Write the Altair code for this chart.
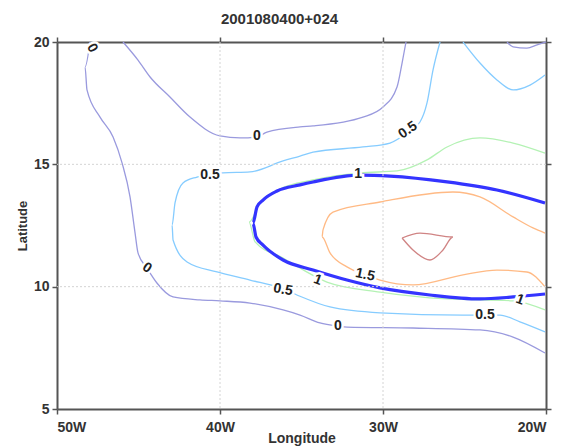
import altair as alt
import pandas as pd

# ---- contour polylines (lon in degrees east, negative = W; lat in degrees N) ----
c0a_lon = [-45.95, -45.03, -44.29, -43.07, -41.84, -40.0, -38.77, -37.73, -37.12, -35.09, -34.29, -31.23, -30.0, -29.14, -28.83, -28.59]
c0a_lat = [20.0, 19.26, 18.57, 17.75, 16.93, 16.16, 16.08, 16.12, 16.32, 16.53, 16.57, 16.93, 17.34, 18.16, 19.14, 20.0]

c0b_lon = [-47.98, -48.28, -48.16, -47.36, -46.56, -46.01, -45.52, -45.21, -45.03, -44.48, -43.87, -42.88, -41.23, -40.0, -38.16, -36.13, -35.09, -33.87, -32.76, -32.21, -28.16, -24.05, -22.02, -20.06]
c0b_lat = [20.0, 18.98, 18.04, 16.93, 16.12, 15.06, 13.67, 12.19, 11.38, 10.76, 10.15, 9.58, 9.46, 9.42, 9.33, 9.05, 8.84, 8.52, 8.39, 8.35, 8.31, 8.23, 7.94, 7.29]

c0c_lon = [-22.39, -22.02, -21.17, -20.55, -20.0]
c0c_lat = [20.0, 19.8, 19.75, 19.88, 20.0]

c05a_lon = [-26.5, -26.93, -27.3, -27.73, -28.47, -29.57, -31.23, -34.29, -35.09, -36.13, -38.16, -39.82, -41.41, -42.27, -42.76, -42.94, -42.88, -42.02, -40.18, -38.16, -36.13, -35.28, -33.25, -30.18, -25.09, -22.82, -21.6, -20.06]
c05a_lat = [20.0, 18.86, 17.51, 16.73, 16.32, 15.87, 15.71, 15.5, 15.34, 15.14, 14.69, 14.65, 14.48, 14.24, 13.42, 12.52, 11.91, 11.01, 10.6, 10.27, 9.91, 9.66, 9.17, 8.93, 8.84, 8.84, 8.56, 8.15]

c05b_lon = [-25.09, -24.05, -23.01, -22.02, -20.98, -20.06]
c05b_lat = [20.0, 19.14, 18.45, 18.04, 18.24, 18.65]

c1_lon = [-20.06, -22.02, -24.05, -26.07, -27.3, -29.14, -31.41, -34.29, -36.32, -37.55, -38.22, -37.85, -36.13, -33.44, -30.18, -26.07, -22.02, -20.06]
c1_lat = [15.46, 15.87, 16.08, 15.71, 15.18, 14.73, 14.65, 14.36, 13.99, 13.42, 12.64, 11.83, 11.17, 10.19, 9.78, 9.5, 9.42, 9.05]

c15_lon = [-20.06, -20.8, -22.02, -24.05, -25.71, -30.18, -33.07, -33.68, -33.74, -33.25, -32.21, -31.1, -30.18, -28.16, -25.09, -23.01, -21.17, -20.06]
c15_lat = [12.19, 12.4, 12.85, 13.67, 13.87, 13.46, 13.05, 12.32, 12.03, 11.38, 10.81, 10.48, 10.27, 10.07, 10.48, 10.68, 10.6, 9.99]

c2_lon = [-28.83, -27.73, -25.71, -26.32, -27.12, -28.16, -28.83]
c2_lat = [11.99, 12.19, 12.03, 11.5, 11.09, 11.5, 11.99]

blue_lon = [-20.06, -23.01, -26.07, -29.57, -31.41, -34.29, -35.09, -36.5, -37.36, -37.73, -37.98, -37.79, -37.36, -36.13, -34.29, -32.21, -30.18, -27.12, -24.05, -22.02, -20.06]
blue_lat = [13.42, 13.95, 14.28, 14.52, 14.56, 14.28, 14.16, 13.91, 13.54, 13.26, 12.6, 12.03, 11.7, 11.09, 10.68, 10.27, 9.95, 9.66, 9.5, 9.58, 9.7]

# ---- contour labels ----
lab_text = ["0", "0", "0.5", "0.5", "1", "1.5", "1", "0.5", "0", "0", "0.5", "1"]
lab_lon = [-47.85, -37.73, -40.61, -28.47, -31.53, -31.1, -34.0, -36.13, -44.48, -32.76, -23.74, -21.6]
lab_lat = [19.75, 16.16, 14.56, 16.4, 14.6, 10.48, 10.27, 9.87, 10.76, 8.39, 8.84, 9.46]
lab_angle = [60, 0, 0, 325, 0, 12, 20, 10, 35, 0, 0, 20]

x_ticks = [-50, -40, -30, -20]
y_ticks = [5, 10, 15, 20]

segments = [
    ("c0a", c0a_lon, c0a_lat, "#9a9ade", 1.3),
    ("c0b", c0b_lon, c0b_lat, "#9a9ade", 1.3),
    ("c0c", c0c_lon, c0c_lat, "#9a9ade", 1.3),
    ("c05a", c05a_lon, c05a_lat, "#86ccff", 1.3),
    ("c05b", c05b_lon, c05b_lat, "#86ccff", 1.3),
    ("c1", c1_lon, c1_lat, "#b4f2b4", 1.3),
    ("c15", c15_lon, c15_lat, "#ffba85", 1.3),
    ("c2", c2_lon, c2_lat, "#d08484", 1.3),
    ("blue", blue_lon, blue_lat, "#3434ff", 3.2),
]

rows = []
for name, lo, la, col, w in segments:
    for i, (a, b) in enumerate(zip(lo, la)):
        rows.append({"seg": name, "lon": a, "lat": b, "i": i, "col": col, "w": w})
lines_df = pd.DataFrame(rows)

labels_df = pd.DataFrame({"t": lab_text, "lon": lab_lon, "lat": lab_lat, "ang": lab_angle})
xgrid_df = pd.DataFrame({"v": x_ticks[1:-1]})
ygrid_df = pd.DataFrame({"v": y_ticks[1:-1]})

FONT = "Liberation Sans"
AX = "#555555"
TXT = "#333333"

xscale = alt.Scale(domain=[-50, -20], nice=False, zero=False)
yscale = alt.Scale(domain=[5, 20], nice=False, zero=False)

common = dict(grid=False, domain=True, domainColor=AX, domainWidth=2,
              tickColor=AX, tickSize=5, tickWidth=1.5)

xaxis = alt.Axis(values=x_ticks, labelExpr="abs(datum.value) + 'W'", title="Longitude",
                 labelFont=FONT, labelFontSize=14, labelFontWeight="bold", labelColor=TXT,
                 labelPadding=6, titleFont=FONT, titleFontSize=14, titleFontWeight="bold",
                 titleColor=TXT, titleX=244.5, titleY=29, titleBaseline="middle", **common)
yaxis = alt.Axis(values=y_ticks, title="Latitude",
                 labelFont=FONT, labelFontSize=14, labelFontWeight="bold", labelColor=TXT,
                 labelPadding=3, titleFont=FONT, titleFontSize=13, titleFontWeight="bold",
                 titleColor=TXT, titleX=-35, titleY=183.5, titleAngle=-90,
                 titleAlign="center", titleBaseline="middle", **common)
xaxis_top = alt.Axis(values=x_ticks, orient="top", labels=False, title=None, **common)
yaxis_right = alt.Axis(values=y_ticks, orient="right", labels=False, title=None, **common)

xgrid = alt.Chart(xgrid_df).mark_rule(color="#d4d4d4", strokeDash=[2, 2], strokeWidth=1).encode(
    x=alt.X("v:Q", scale=xscale, axis=xaxis_top))
ygrid = alt.Chart(ygrid_df).mark_rule(color="#d4d4d4", strokeDash=[2, 2], strokeWidth=1).encode(
    y=alt.Y("v:Q", scale=yscale, axis=yaxis_right))

lines = alt.Chart(lines_df).mark_line(interpolate="monotone").encode(
    x=alt.X("lon:Q", scale=xscale, axis=xaxis),
    y=alt.Y("lat:Q", scale=yscale, axis=yaxis),
    detail="seg:N",
    order="i:Q",
    color=alt.Color("col:N", scale=None),
    strokeWidth=alt.StrokeWidth("w:Q", scale=None),
)

halo = alt.Chart(labels_df).mark_text(font=FONT, fontSize=14, fontWeight="bold",
                                      stroke="white", strokeWidth=5, color="white").encode(
    x=alt.X("lon:Q", scale=xscale, axis=None), y=alt.Y("lat:Q", scale=yscale, axis=None),
    text="t:N", angle=alt.Angle("ang:Q", scale=None))
text = alt.Chart(labels_df).mark_text(font=FONT, fontSize=14, fontWeight="bold",
                                      color="#222222").encode(
    x=alt.X("lon:Q", scale=xscale, axis=None), y=alt.Y("lat:Q", scale=yscale, axis=None),
    text="t:N", angle=alt.Angle("ang:Q", scale=None))

chart = alt.layer(lines, xgrid, ygrid, halo, text).resolve_axis(
    x="independent", y="independent"
).properties(
    width=489, height=367,
    title=alt.TitleParams("2001080400+024", font=FONT, fontSize=15, fontWeight="bold",
                          color=TXT, anchor="middle", dx=-22, offset=8),
    autosize=alt.AutoSizeParams(type="none"),
    padding={"left": 49, "top": 34, "right": 8, "bottom": 40},
).configure_view(stroke=None)

chart.save("out.html", embed_options={"renderer": "svg", "actions": False})
